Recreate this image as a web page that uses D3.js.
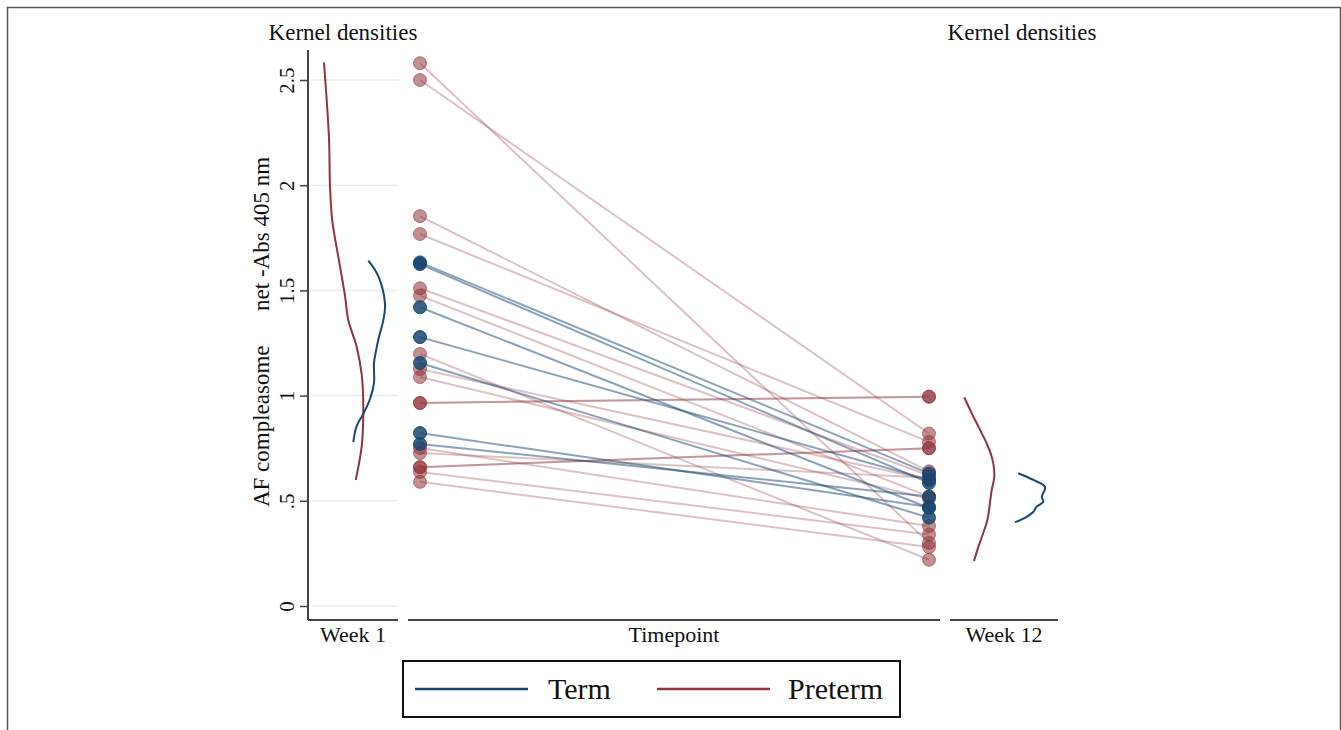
<!DOCTYPE html>
<html>
<head>
<meta charset="utf-8">
<script src="https://cdn.jsdelivr.net/npm/d3@7"></script>
<style>
  body { margin: 0; background: #fff; }
  text { font-family: "Liberation Serif", "Times New Roman", serif; fill: #111; }
</style>
</head>
<body>
<div id="chart"></div>
<script>
const width = 1341;
const height = 730;

// values
const timepoints = ["Week 1", "Week 12"];
const groups = ["Term", "Preterm"];

const termWeek1  = [1.633, 1.625, 1.42, 1.278, 1.155, 0.822, 0.77];
const termWeek12 = [0.63, 0.585, 0.466, 0.60, 0.42, 0.47, 0.52];

const pretermWeek1  = [2.58, 2.50, 1.853, 1.768, 1.51, 1.475, 1.198, 1.126, 1.088, 0.965, 0.965, 0.751, 0.727, 0.66, 0.66, 0.637, 0.59];
const pretermWeek12 = [0.30, 0.82, 0.64, 0.78, 0.62, 0.52, 0.22, 0.60, 0.51, 0.995, 0.995, 0.38, 0.61, 0.75, 0.75, 0.34, 0.28];

const yTicks = [0, 0.5, 1, 1.5, 2, 2.5];
const yTickLabels = ["0", ".5", "1", "1.5", "2", "2.5"];

// kernel density curves: [value, density]
const termDensWeek1 = [[1.642, 1.072], [1.568, 1.25], [1.435, 1.369], [1.359, 1.339], [1.267, 1.25], [1.212, 1.209],
    [1.155, 1.173], [1.06, 1.173], [0.984, 1.102], [0.913, 0.983], [0.856, 0.866], [0.779, 0.805]];
const pretermDensWeek1 = [[2.583, 0.284], [2.224, 0.373], [1.996, 0.391], [1.83, 0.432], [1.659, 0.539], [1.474, 0.658],
    [1.359, 0.716], [1.231, 0.866], [1.098, 0.955], [0.946, 0.983], [0.76, 0.955], [0.599, 0.848]];
const termDensWeek12 = [[0.631, 3.16], [0.599, 3.86], [0.566, 4.4], [0.518, 4.25], [0.496, 4.32], [0.472, 4.01],
    [0.448, 3.86], [0.424, 3.55], [0.398, 3.01]];
const pretermDensWeek12 = [[0.992, 0.66], [0.917, 1.0], [0.837, 1.39], [0.756, 1.77], [0.68, 2.0], [0.613, 2.05],
    [0.551, 1.93], [0.49, 1.85], [0.409, 1.73], [0.347, 1.54], [0.28, 1.31], [0.214, 1.11]];

const termColor = "#1a476f";
const pretermColor = "#90353b";

const svg = d3.select("#chart")
    .append("svg")
    .attr("width", width)
    .attr("height", height);

// outer frame
svg.append("rect")
    .attr("x", 7.5).attr("y", 7.5)
    .attr("width", 1333).attr("height", 740)
    .attr("fill", "none")
    .attr("stroke", "#555")
    .attr("stroke-width", 1.5);

const y = d3.scaleLinear().domain([0, 2.5]).range([606, 80]);
const x = d3.scalePoint().domain(timepoints).range([420, 929]);
const dens1 = d3.scaleLinear().domain([0, 1.6]).range([308, 398]);
const dens12 = d3.scaleLinear().domain([0, 5]).range([950, 1058]);

// gridlines in week 1 panel
svg.append("g")
    .selectAll("line")
    .data(yTicks)
    .enter().append("line")
    .attr("x1", 312).attr("x2", 398)
    .attr("y1", d => y(d)).attr("y2", d => y(d))
    .attr("stroke", "#e6eff0")
    .attr("stroke-width", 1.5);

// y axis
const yAxis = svg.append("g")
    .attr("transform", "translate(308,0)")
    .call(d3.axisLeft(y).tickValues(yTicks).tickFormat((d, i) => yTickLabels[i]).tickSize(8));
yAxis.select(".domain").attr("stroke", "#444").attr("stroke-width", 2).attr("d", "M0,50V620");
yAxis.selectAll(".tick line").attr("stroke", "#444").attr("stroke-width", 1.5);
yAxis.selectAll(".tick text")
    .attr("font-family", "Liberation Serif")
    .attr("font-size", 21)
    .attr("fill", "#111")
    .attr("text-anchor", "middle")
    .attr("x", 0)
    .attr("y", 0)
    .attr("dy", "0")
    .attr("transform", "translate(-14,0) rotate(-90)");

svg.append("text")
    .attr("transform", "translate(269,332) rotate(-90)")
    .attr("text-anchor", "middle")
    .attr("font-size", 23)
    .attr("xml:space", "preserve")
    .text("AF compleasome      net -Abs 405 nm");

// bottom axis lines
const panels = [
    { x1: 308, x2: 398, label: "Week 1", cx: 353 },
    { x1: 408, x2: 940, label: "Timepoint", cx: 674 },
    { x1: 950, x2: 1058, label: "Week 12", cx: 1004 }
];
svg.append("g").selectAll("line")
    .data(panels)
    .enter().append("line")
    .attr("x1", d => d.x1).attr("x2", d => d.x2)
    .attr("y1", 620).attr("y2", 620)
    .attr("stroke", "#444")
    .attr("stroke-width", 2);
svg.append("g").selectAll("text")
    .data(panels)
    .enter().append("text")
    .attr("x", d => d.cx).attr("y", 642)
    .attr("text-anchor", "middle")
    .attr("font-size", 22)
    .text(d => d.label);

// panel titles
svg.append("g").selectAll("text")
    .data([343, 1022])
    .enter().append("text")
    .attr("x", d => d).attr("y", 40)
    .attr("text-anchor", "middle")
    .attr("font-size", 23)
    .text("Kernel densities");

// connecting lines
const pairs = (w1, w12, group) => w1.map((v, i) => ({ w1: v, w12: w12[i], group }));
const pretermPairs = pairs(pretermWeek1, pretermWeek12, "Preterm");
const termPairs = pairs(termWeek1, termWeek12, "Term");

svg.append("g").selectAll("line")
    .data(pretermPairs)
    .enter().append("line")
    .attr("x1", x("Week 1")).attr("x2", x("Week 12"))
    .attr("y1", d => y(d.w1)).attr("y2", d => y(d.w12))
    .attr("stroke", pretermColor)
    .attr("stroke-opacity", 0.3)
    .attr("stroke-width", 2);

svg.append("g").selectAll("line")
    .data(termPairs)
    .enter().append("line")
    .attr("x1", x("Week 1")).attr("x2", x("Week 12"))
    .attr("y1", d => y(d.w1)).attr("y2", d => y(d.w12))
    .attr("stroke", termColor)
    .attr("stroke-opacity", 0.5)
    .attr("stroke-width", 2);

// points
const allPairs = pretermPairs.concat(termPairs);
timepoints.forEach(tp => {
    svg.append("g").selectAll("circle")
        .data(allPairs)
        .enter().append("circle")
        .attr("cx", x(tp))
        .attr("cy", d => y(tp === "Week 1" ? d.w1 : d.w12))
        .attr("r", 6.5)
        .attr("fill", d => d.group === "Term" ? termColor : pretermColor)
        .attr("fill-opacity", d => d.group === "Term" ? 0.85 : 0.55)
        .attr("stroke", d => d.group === "Term" ? termColor : pretermColor)
        .attr("stroke-opacity", d => d.group === "Term" ? 0.9 : 0.6)
        .attr("stroke-width", 1);
});

// kernel densities
const curve = (sx) => d3.line()
    .x(d => sx(d[1]))
    .y(d => y(d[0]))
    .curve(d3.curveCatmullRom);

[[pretermDensWeek1, dens1, pretermColor], [termDensWeek1, dens1, termColor],
 [pretermDensWeek12, dens12, pretermColor], [termDensWeek12, dens12, termColor]].forEach(([data, sx, color]) => {
    svg.append("path")
        .attr("d", curve(sx)(data))
        .attr("fill", "none")
        .attr("stroke", color)
        .attr("stroke-width", 2);
});

// legend
const legend = svg.append("g");
legend.append("rect")
    .attr("x", 403).attr("y", 661)
    .attr("width", 497).attr("height", 56)
    .attr("fill", "none")
    .attr("stroke", "#111")
    .attr("stroke-width", 2);
const legendItems = [
    { name: groups[0], color: termColor, lx: 415, tx: 548 },
    { name: groups[1], color: pretermColor, lx: 657, tx: 788 }
];
legend.selectAll("line")
    .data(legendItems)
    .enter().append("line")
    .attr("x1", d => d.lx).attr("x2", d => d.lx + 113)
    .attr("y1", 689).attr("y2", 689)
    .attr("stroke", d => d.color)
    .attr("stroke-width", 2.5);
legend.selectAll("text")
    .data(legendItems)
    .enter().append("text")
    .attr("x", d => d.tx).attr("y", 699)
    .attr("font-size", 30)
    .text(d => d.name);
</script>
</body>
</html>
